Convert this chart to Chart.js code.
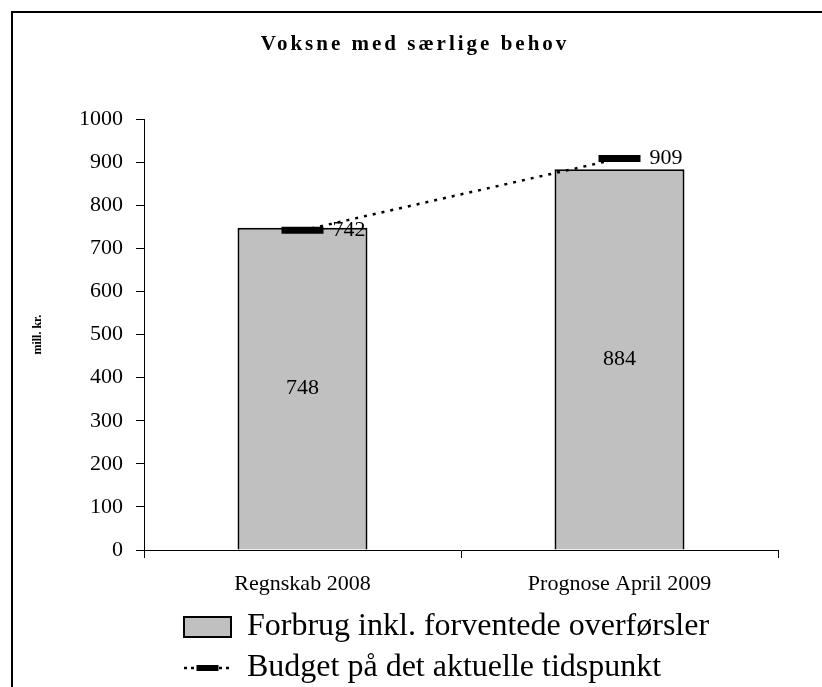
<!DOCTYPE html>
<html>
<head>
<meta charset="utf-8">
<script src="https://cdn.jsdelivr.net/npm/chart.js@4"></script>
<style>
  body { margin: 0; background: #fff; overflow: hidden; }
  #wrap { position: relative; width: 822px; height: 687px; }
  #frame { position: absolute; left: 11px; top: 11px; width: 900px; height: 900px;
           border-left: 2px solid #000; border-top: 2px solid #000; pointer-events: none; }
</style>
</head>
<body>
<div id="wrap">
  <canvas id="chart" width="822" height="687"></canvas>
  <div id="frame"></div>
</div>
<script>
// chart data
const categories = ['Regnskab 2008', 'Prognose April 2009'];
const forbrug = [748, 884];
const budget = [742, 909];
const seriesNames = ['Forbrug inkl. forventede overførsler', 'Budget på det aktuelle tidspunkt'];

const SERIF = '"Liberation Serif", "Times New Roman", serif';

// value labels on bars and budget markers
const valueLabels = {
    id: 'valueLabels',
    afterDatasetsDraw(chart) {
        const ctx = chart.ctx;
        ctx.save();
        ctx.font = '22px ' + SERIF;
        ctx.fillStyle = '#000';
        ctx.textBaseline = 'middle';
        chart.getDatasetMeta(0).data.forEach((el, i) => {
            ctx.textAlign = 'center';
            ctx.fillText(forbrug[i], el.x, (el.y + el.base) / 2);
        });
        chart.getDatasetMeta(1).data.forEach((el, i) => {
            ctx.textAlign = 'left';
            ctx.fillText(budget[i], el.x + 30, el.y);
        });
        ctx.restore();
    }
};

// nudge title / legend to where the original sits, and space the title letters
const placement = {
    id: 'placement',
    afterInit(chart) {
        const title = chart.titleBlock;
        const draw = title.draw.bind(title);
        title.draw = function() {
            chart.ctx.letterSpacing = '3px';
            draw();
            chart.ctx.letterSpacing = '0px';
        };
    },
    afterLayout(chart) {
        const t = chart.titleBlock;
        const dt = 415 - (t.left + t.right) / 2;
        t.left += dt; t.right += dt;
        const lg = chart.legend;
        const dl = 184 - (lg.left + lg.options.labels.padding);
        lg.left += dl; lg.right += dl;
    },
    afterDraw(chart) {
        // thick budget mark in the middle of the legend line
        const hb = chart.legend.legendHitBoxes[1];
        if (!hb) return;
        const ctx = chart.ctx;
        ctx.save();
        ctx.fillStyle = '#000';
        ctx.fillRect(hb.left + 23.5 - 11, hb.top + 16 - 3, 22, 6);
        ctx.restore();
    }
};

new Chart(document.getElementById('chart'), {
    type: 'bar',
    data: {
        labels: categories,
        datasets: [
            {
                label: seriesNames[0],
                data: forbrug,
                backgroundColor: '#C0C0C0',
                borderColor: '#000',
                borderWidth: 2,
                categoryPercentage: 1,
                barPercentage: 0.41,
                order: 1
            },
            {
                type: 'line',
                label: seriesNames[1],
                data: budget,
                borderColor: '#000',
                borderWidth: 2.5,
                borderDash: [3, 6],
                fill: false,
                pointStyle: 'line',
                pointRadius: 21,
                pointHoverRadius: 21,
                pointBorderWidth: 7,
                pointBorderColor: '#000',
                order: 0
            }
        ]
    },
    options: {
        responsive: false,
        animation: false,
        devicePixelRatio: 1,
        layout: { padding: { left: 12, right: 44, top: 0, bottom: 0 } },
        plugins: {
            title: {
                display: true,
                text: 'Voksne med særlige behov',
                color: '#000',
                font: { family: SERIF, size: 21, weight: 'bold' },
                padding: { top: 32, bottom: 62 }
            },
            legend: {
                position: 'bottom',
                align: 'start',
                maxHeight: 85,
                labels: {
                    color: '#000',
                    font: { family: SERIF, size: 32 },
                    usePointStyle: true,
                    pointStyleWidth: 47,
                    boxHeight: 20,
                    padding: 9,
                    generateLabels: () => [
                        { text: seriesNames[0], fillStyle: '#C0C0C0', strokeStyle: '#000',
                          lineWidth: 2, pointStyle: 'rect', datasetIndex: 0 },
                        { text: seriesNames[1], fillStyle: 'rgba(0,0,0,0)', strokeStyle: '#000',
                          lineWidth: 2.5, lineDash: [3, 4], pointStyle: 'line', datasetIndex: 1 }
                    ]
                }
            },
            tooltip: { enabled: false }
        },
        scales: {
            x: {
                grid: { drawOnChartArea: false, tickLength: 8, color: '#000' },
                border: { color: '#000', width: 1 },
                ticks: { color: '#000', font: { family: SERIF, size: 22 }, padding: 13, maxRotation: 0 },
                afterFit: (scale) => { scale.height = 52; }
            },
            y: {
                min: 0,
                max: 1000,
                grid: { drawOnChartArea: false, tickLength: 8, color: '#000' },
                border: { color: '#000', width: 1 },
                ticks: {
                    stepSize: 100,
                    color: '#000',
                    font: { family: SERIF, size: 22 },
                    padding: 13,
                    callback: (v) => String(v)
                },
                title: {
                    display: true,
                    text: 'mill. kr.',
                    color: '#000',
                    font: { family: SERIF, size: 12, weight: 'bold' },
                    padding: { top: 19, bottom: 0 }
                },
                afterFit: (scale) => { scale.width = 132; }
            }
        }
    },
    plugins: [valueLabels, placement]
});
</script>
</body>
</html>
